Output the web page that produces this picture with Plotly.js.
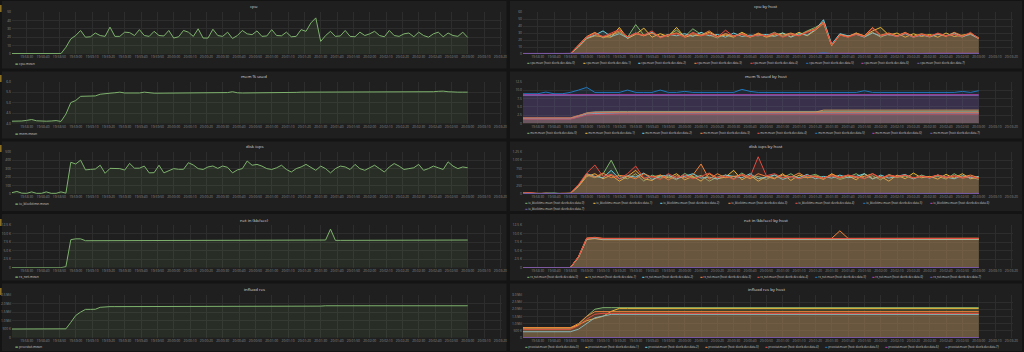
<!DOCTYPE html>
<html>
<head>
<meta charset="utf-8">
<script src="https://cdn.plot.ly/plotly-3.0.1.min.js"></script>
<style>
html,body{margin:0;padding:0;background:#141414;overflow:hidden;}
#chart{width:1024px;height:352px;}
</style>
</head>
<body>
<div id="chart"></div>
<script>
// ---------------- time grids ----------------
const DAY = '2017-06-01';
const leftStart = '19:58:21', leftStepSec = 3, leftCount = 94;
const rightStart = '19:58:20', rightStepSec = 5, rightCount = 57;
const axisRange = ['2017-06-01 19:58:21', '2017-06-01 20:03:21'];

// ---------------- tick labels ----------------
const cpuTicks = [0,10,20,30,40,50];
const cpuTickText = ['0','10','20','30','40','50'];
const cpuHostTicks = [0,10,20,30,40,50,60];
const cpuHostTickText = ['0','10','20','30','40','50','60'];
const memTicks = [4,4.5,5,5.5,6];
const memTickText = ['4.0','4.5','5.0','5.5','6.0'];
const memHostTicks = [0,2.5,5,7.5,10,12.5];
const memHostTickText = ['0','2.5','5.0','7.5','10.0','12.5'];
const diskTicks = [0,100,200,300,400,500];
const diskTickText = ['0','100','200','300','400','500'];
const diskHostTicks = [0,250,500,750,1000,1250];
const diskHostTickText = ['0','250','500','750','1.00 K','1.25 K'];
const netTicks = [0,2500,5000,7500,10000,12500];
const netTickText = ['0','2.5 K','5.0 K','7.5 K','10.0 K','12.5 K'];
const netHostTicks = [0,2500,5000,7500,10000,12500];
const netHostTickText = ['0','2.5 K','5.0 K','7.5 K','10.0 K','12.5 K'];
const resTicks = [0,500000,1000000,1500000,2000000,2500000];
const resTickText = ['0','500 K','1.0 Mil','1.5 Mil','2.0 Mil','2.5 Mil'];
const resHostTicks = [0,500000,1000000,1500000,2000000,2500000,3000000];
const resHostTickText = ['0','500 K','1.0 Mil','1.5 Mil','2.0 Mil','2.5 Mil','3.0 Mil'];

// ---------------- names ----------------
const hosts = ['devrb-dev-data-0','devrb-dev-data-1','devrb-dev-data-2','devrb-dev-data-3',
               'devrb-dev-data-4','devrb-dev-data-5','devrb-dev-data-6','devrb-dev-data-7'];
const palette = ['#7EB26D','#EAB839','#6ED0E0','#EF843C','#E24D42','#1F78C1','#BA43A9','#705DA0'];

// ---------------- left column series (3 s grid) ----------------
const cpuMean = [
0.5,0.5,0.5,0.5,0.5,0.5,0.5,0.5,0.5,0.5,
0.5,8,18,22,28,20,20.5,25,22,21,
32,21,21,26,25.5,22,29,22,21,27,
22,21.5,28,19,20.5,28,26,21,30,19,
19,29.5,22,21,26,18.5,22,28,24,23,
27.5,21,21.5,29,22,21.7,26,20.5,21,29,
27,37,43,15,22,27,21,21.5,28,21,
20.5,26,22,24,27,22,20.5,28,22,21,
24,25,20.5,26,22,20,24,26,20.5,25,
22,21,26,19.7];
const memMean = [
4.11,4.11,4.12,4.15,4.19,4.13,4.11,4.11,4.12,4.14,
4.10,4.45,5.00,5.10,5.30,5.31,5.31,5.32,5.40,5.44,
5.45,5.47,5.50,5.46,5.45,5.45,5.46,5.50,5.46,5.45,
5.45,5.45,5.46,5.47,5.45,5.45,5.45,5.47,5.45,5.45,
5.45,5.45,5.45,5.46,5.48,5.52,5.47,5.46,5.46,5.46,
5.46,5.46,5.46,5.47,5.47,5.47,5.48,5.48,5.49,5.50,
5.50,5.50,5.51,5.50,5.50,5.50,5.50,5.50,5.50,5.50,
5.50,5.50,5.50,5.50,5.50,5.50,5.51,5.50,5.50,5.50,
5.50,5.50,5.50,5.50,5.50,5.50,5.52,5.54,5.55,5.52,
5.50,5.50,5.50,5.50];
const diskMean = [
16,30,10,8,25,8,8,25,8,8,
25,10,375,355,400,285,291,295,340,245,
303,303,300,283,362,305,305,330,250,252,
340,250,276,300,292,292,370,343,300,290,
320,331,303,331,315,250,285,300,390,340,
350,330,300,290,310,340,290,260,300,320,
350,310,280,330,300,250,300,330,320,290,
350,300,280,310,340,300,260,320,360,330,
290,300,310,350,280,300,330,310,290,380,
330,300,320,310];
const netMean = [
20,20,20,20,20,20,20,20,20,20,
20,300,8200,8450,8450,7900,7900,7900,7920,7920,
7920,7920,7930,7930,7930,7930,7940,7940,7940,7940,
7950,7950,7950,7950,7950,7950,7950,7960,7960,7960,
7960,7960,7960,7970,7970,7970,7970,7970,7970,7980,
7980,7980,7980,7980,7990,7990,7990,7990,8000,8000,
8000,8000,8000,8000,8100,11300,8000,8000,8000,8010,
8010,8010,8010,8020,8020,8020,8020,8030,8030,8030,
8030,8040,8040,8040,8050,8060,8080,8100,8100,8100,
8100,8100,8100,8100];
const resMean = [
510000,510000,510000,510000,510000,510000,510000,510000,510000,510000,
510000,520000,900000,1300000,1500000,1660000,1660000,1665000,1780000,1820000,
1820000,1820000,1820000,1820000,1820000,1820000,1820000,1820000,1820000,1820000,
1820000,1820000,1820000,1820000,1820000,1820000,1820000,1830000,1820000,1820000,
1820000,1820000,1820000,1820000,1820000,1820000,1820000,1820000,1820000,1820000,
1820000,1820000,1820000,1820000,1820000,1820000,1820000,1820000,1820000,1820000,
1820000,1820000,1820000,1850000,1870000,1870000,1870000,1870000,1870000,1870000,
1870000,1870000,1870000,1870000,1870000,1870000,1870000,1870000,1870000,1870000,
1870000,1870000,1870000,1870000,1870000,1870000,1870000,1870000,1870000,1870000,
1870000,1870000,1870000,1870000];

// ---------------- right column series (5 s grid) ----------------
const cpuHost0 = [0.5,0.4,0.6,0.5,0.4,0.5,0.6,12,24,30, 23,27,31,24,42,27,30,24,27,34, 25,36,28,27,23,29,25,30,24,28, 26,31,25,29,27,33,38,45,13,28, 24,30,25,31,24,29,26,30,25,28, 24,29,26,28,24,30,22];
const cpuHost1 = [0.6,0.5,0.5,0.7,0.5,0.4,0.5,10,22,26, 25,24,38,22,28,37,24,29,25,38, 24,27,26,31,25,27,24,31,25,29, 24,27,30,25,31,26,34,44,12,27, 25,29,26,33,38,27,30,24,29,25, 28,24,30,25,27,29,23];
const cpuHost2 = [0.4,0.5,0.6,0.5,0.5,0.6,0.5,11,23,27, 33,25,29,23,30,26,31,24,28,26, 29,25,31,26,28,24,30,25,27,26, 28,25,30,24,29,27,35,49,14,29, 26,28,24,30,26,28,25,29,24,27, 25,28,26,30,25,28,22];
const cpuHost3 = [0.5,0.5,0.4,0.5,0.6,0.5,0.5,13,25,31, 24,28,33,25,29,26,30,25,28,30, 26,29,27,33,25,29,26,28,24,30, 25,29,27,30,26,32,36,46,12,28, 25,30,26,38,27,30,26,31,25,29, 26,29,25,31,26,29,23];
const cpuHost4 = [0.5,0.6,0.5,0.5,0.5,0.4,0.6,12,24,29, 25,30,35,24,30,27,33,23,27,29, 24,31,26,29,24,34,25,29,25,27, 26,30,24,28,26,31,35,45,13,27, 24,28,25,37,26,29,25,30,24,28, 25,30,26,28,25,31,22];
const cpuHost5 = [0.3,0.4,0.3,0.5,0.3,0.4,0.3,0.6,0.5,0.4, 0.5,0.4,0.6,0.4,0.5,0.4,0.6,0.4,0.5,0.4, 0.5,0.4,0.5,0.6,0.4,0.5,0.4,0.5,0.4,0.6, 0.4,0.5,0.4,0.5,0.4,0.6,0.5,1.8,0.4,0.5, 0.4,0.5,0.6,0.4,0.5,0.4,0.5,0.4,0.6,0.4, 0.5,0.4,0.5,0.4,0.6,0.4,0.5];
const cpuHost6 = [0.8,1.0,0.7,0.9,1.1,0.8,0.9,1.2,1.0,0.8, 1.1,0.9,1.0,0.8,1.2,0.9,1.0,0.8,1.1,0.9, 1.0,0.9,0.8,1.1,1.0,0.9,1.2,0.8,1.0,0.9, 1.1,0.8,1.0,0.9,1.1,1.0,0.8,1.3,0.9,1.0, 0.8,1.1,0.9,1.0,0.8,1.2,0.9,1.0,1.1,0.8, 1.0,0.9,1.1,0.8,1.0,0.9,1.0];
const cpuHost7 = [0.5,0.6,0.4,0.5,0.7,0.5,0.6,0.8,0.6,0.5, 0.7,0.6,0.5,0.6,0.8,0.5,0.6,0.7,0.5,0.6, 0.6,0.5,0.7,0.6,0.5,0.6,0.7,0.5,0.6,0.5, 0.7,0.6,0.5,0.6,0.7,0.5,0.6,0.9,0.5,0.6, 0.5,0.7,0.6,0.5,0.6,0.7,0.5,0.6,0.6,0.5, 0.7,0.6,0.5,0.6,0.7,0.5,0.6];

const memHost0 = [1.5,1.5,1.5,1.5,1.5,1.5,1.5,2.2,3.2,3.5, 3.6,3.6,3.6,3.6,3.6,3.6,3.6,3.6,3.6,3.6, 3.6,3.6,3.6,3.6,3.6,3.6,3.6,3.6,3.6,3.6, 3.6,3.6,3.6,3.6,3.6,3.6,3.6,3.6,3.6,3.6, 3.6,3.6,3.6,3.6,3.6,3.6,3.6,3.6,3.6,3.6, 3.6,3.6,3.6,3.6,3.6,3.6,3.6];
const memHost1 = [1.6,1.6,1.6,1.6,1.6,1.6,1.6,2.3,3.0,3.3, 3.4,3.4,3.4,3.4,3.4,3.4,3.4,3.4,3.4,3.4, 3.4,3.4,3.4,3.4,3.4,3.4,3.4,3.4,3.4,3.4, 3.4,3.4,3.4,3.4,3.4,3.4,3.4,4.0,4.0,4.0, 4.0,4.0,4.0,4.0,4.0,4.0,4.0,4.0,4.0,4.0, 4.0,4.0,4.0,4.0,4.0,4.0,4.0];
const memHost2 = [1.4,1.4,1.4,1.4,1.4,1.4,1.4,2.0,2.8,3.0, 3.1,3.1,3.1,3.1,3.1,3.1,3.1,3.1,3.1,3.1, 3.1,3.1,3.1,3.1,3.1,3.1,3.1,3.1,3.1,3.1, 3.1,3.1,3.1,3.1,3.1,3.1,3.1,3.1,3.1,3.1, 3.1,3.1,3.1,3.1,3.1,3.1,3.1,3.1,3.1,3.1, 3.1,3.1,3.1,3.1,3.1,3.1,3.1];
const memHost3 = [1.7,1.7,1.7,1.7,1.7,1.7,1.7,2.4,3.1,3.3, 3.3,3.3,3.3,3.3,3.3,3.3,3.3,3.3,3.3,3.3, 3.3,3.3,3.3,3.3,3.3,3.3,3.3,3.3,3.3,3.3, 3.3,3.3,3.3,3.3,3.3,3.3,3.3,3.3,3.3,3.3, 3.3,3.3,3.3,3.3,3.3,3.3,3.3,3.3,3.3,3.3, 3.3,3.3,3.3,3.3,3.3,3.3,3.3];
const memHost4 = [1.3,1.3,1.3,1.3,1.3,1.3,1.3,1.9,2.5,2.7, 2.8,2.8,2.8,2.8,2.8,2.8,2.8,2.8,2.8,2.8, 2.8,2.8,2.8,2.8,2.8,2.8,2.8,2.8,2.8,2.8, 2.8,2.8,2.8,2.8,2.8,2.8,2.8,2.8,2.8,2.8, 2.8,2.8,2.8,2.8,2.8,2.8,2.8,2.8,2.8,2.8, 2.8,2.8,2.8,2.8,2.8,2.8,2.8];
const memHost5 = [8.9,8.9,8.9,9.4,8.9,8.9,9.3,10.0,10.8,9.3, 9.3,9.3,9.3,10.0,9.3,9.3,9.3,10.0,9.3,9.3, 9.6,9.3,9.3,9.3,9.3,9.3,9.3,10.2,9.6,9.3, 9.3,9.3,9.3,9.3,9.5,9.3,9.5,9.3,9.3,9.3, 9.3,9.3,9.8,9.3,9.3,9.3,9.3,9.3,9.3,9.3, 9.3,9.3,9.3,9.3,9.6,9.3,9.8];
const memHost6 = [8.6,8.6,8.6,8.6,8.6,8.6,8.6,8.6,8.6,8.6, 8.6,8.6,8.6,8.6,8.6,8.6,8.6,8.6,8.6,8.6, 8.6,8.6,8.6,8.6,8.6,8.6,8.6,8.6,8.6,8.6, 8.6,8.6,8.6,8.6,8.6,8.6,8.6,8.6,8.6,8.6, 8.6,8.6,8.6,8.6,8.6,8.6,8.6,8.6,8.6,8.6, 8.6,8.6,8.6,8.6,8.6,8.6,8.6];
const memHost7 = [8.37,8.37,8.37,8.37,8.37,8.37,8.37,8.37,8.37,8.37, 8.37,8.37,8.37,8.37,8.37,8.37,8.37,8.37,8.37,8.37, 8.37,8.37,8.37,8.37,8.37,8.37,8.37,8.37,8.37,8.37, 8.37,8.37,8.37,8.37,8.37,8.37,8.37,8.37,8.37,8.37, 8.37,8.37,8.37,8.37,8.37,8.37,8.37,8.37,8.37,8.37, 8.37,8.37,8.37,8.37,8.37,8.37,8.37];

const diskHost0 = [20,35,10,15,30,10,25,250,560,480, 590,1000,520,450,600,380,560,470,520,420, 610,480,550,380,500,560,450,620,470,520, 430,560,480,600,450,520,580,470,540,430, 500,600,460,540,420,580,490,530,450,560, 480,520,440,600,470,510,430];
const diskHost1 = [15,25,20,10,20,15,20,220,520,600, 450,560,380,520,700,450,400,560,480,600, 420,520,380,600,450,500,700,420,560,380, 520,450,600,400,560,480,520,430,600,470, 540,420,600,460,520,380,560,450,620,480, 520,440,580,470,600,450,500];
const diskHost2 = [25,15,10,20,15,25,10,240,600,520, 480,700,450,540,500,620,430,520,560,450, 520,600,470,500,440,560,520,480,600,450, 500,560,430,520,480,580,450,520,470,560, 480,520,600,440,560,470,520,580,450,530, 470,560,500,450,540,480,520];
const diskHost3 = [30,20,15,25,10,20,15,260,580,500, 620,480,550,520,450,600,500,560,420,540, 480,560,886,440,600,480,520,560,450,600, 520,470,560,500,620,480,540,460,580,500, 560,480,520,600,470,540,500,560,480,520, 500,560,470,540,500,560,480];
const diskHost4 = [20,40,15,10,25,15,20,280,620,856, 520,580,450,600,826,470,520,430,600,480, 560,450,520,620,480,540,430,580,500,1100, 540,600,480,520,450,560,500,470,540,480, 560,520,450,600,480,560,520,560,470,530, 480,560,500,540,470,520,460];
const diskHost5 = [6,9,5,8,7,6,9,11,8,7, 10,8,9,7,11,8,9,7,10,8, 8,10,7,9,8,7,11,8,9,7, 9,10,7,9,8,9,10,8,9,7, 9,10,8,9,7,9,11,8,9,7, 9,10,8,9,8,7,10];
const diskHost6 = [8,12,6,10,9,7,11,14,10,8, 12,9,10,8,13,9,11,8,12,10, 9,11,8,12,10,9,13,8,11,9, 10,12,8,11,9,10,12,9,11,8, 10,12,9,11,8,10,13,9,11,8, 10,12,9,11,10,8,12];
const diskHost7 = [15,20,12,18,16,14,19,22,18,15, 20,17,18,15,21,16,19,15,20,17, 16,19,15,20,18,16,21,15,19,17, 18,20,15,19,16,18,20,16,19,15, 18,20,16,19,15,18,21,16,19,15, 18,20,16,19,17,15,20];

const netHost0 = [20,20,20,20,20,20,20,3200,8500,8700, 8400,8400,8400,8400,8400,8400,8400,8400,8400,8400, 8400,8400,8400,8400,8400,8400,8400,8400,8400,8400, 8400,8400,8400,8400,8400,8400,8400,8400,8400,8450, 8400,8400,8400,8400,8400,8400,8400,8400,8400,8400, 8400,8400,8450,8450,8450,8450,8450];
const netHost1 = [20,20,20,20,20,20,20,3000,8300,8500, 8200,8200,8200,8200,8200,8200,8200,8200,8200,8200, 8200,8200,8200,8200,8200,8200,8200,8200,8200,8200, 8200,8200,8200,8200,8200,8200,8200,8200,8200,8250, 8200,8200,8200,8200,8200,8200,8200,8200,8200,8200, 8200,8200,8250,8250,8250,8250,8250];
const netHost2 = [20,20,20,20,20,20,20,3100,8400,8600, 8300,8300,8300,8300,8300,8300,8300,8300,8300,8300, 8300,8300,8300,8300,8300,8300,8300,8300,8300,8300, 8300,8300,8300,8300,8300,8300,8300,8300,8300,8350, 8300,8300,8300,8300,8300,8300,8300,8300,8300,8300, 8300,8300,8350,8350,8350,8350,8350];
const netHost3 = [20,20,20,20,20,20,20,3300,8700,8900, 8600,8600,8600,8600,8600,8600,8600,8600,8600,8600, 8600,8600,8600,8600,8600,8600,8600,8600,8600,8600, 8600,8600,8600,8600,8600,8600,8600,8600,8600,10800, 8600,8600,8600,8600,8600,8600,8600,8600,8600,8600, 8600,8600,8650,8650,8650,8650,8650];
const netHost4 = [20,20,20,20,20,20,20,3200,8600,8800, 8500,8500,8500,8500,8500,8500,8500,8500,8500,8500, 8500,8500,8500,8500,8500,8500,8500,8500,8500,8500, 8500,8500,8500,8500,8500,8500,8500,8500,8500,8550, 8500,8500,8500,8500,8500,8500,8500,8500,8500,8500, 8500,8500,8550,8550,8550,8550,8550];
const netHost5 = [40,40,40,40,40,40,40,40,40,40, 40,40,40,40,40,40,40,40,40,40, 40,40,40,40,40,40,40,40,40,40, 40,40,40,40,40,40,40,40,40,40, 40,40,40,40,40,40,40,40,40,40, 40,40,40,40,40,40,40];
const netHost6 = [20,20,20,20,20,20,20,20,20,20, 20,20,20,20,20,20,20,20,20,20, 20,20,20,20,20,20,20,20,20,20, 20,20,20,20,20,20,20,20,20,20, 20,20,20,20,20,20,20,20,20,20, 20,20,20,20,20,20,20];
const netHost7 = [30,30,30,30,30,30,30,30,30,30, 30,30,30,30,30,30,30,30,30,30, 30,30,30,30,30,30,30,30,30,30, 30,30,30,30,30,30,30,30,30,30, 30,30,30,30,30,30,30,30,30,30, 30,30,30,30,30,30,30];

const resHost0 = [620000,620000,620000,620000,620000,620000,620000,900000,1500000,2000000, 2110000,2110000,2110000,2110000,2110000,2110000,2110000,2110000,2110000,2110000, 2110000,2110000,2150000,2120000,2110000,2110000,2110000,2110000,2110000,2110000, 2110000,2110000,2110000,2110000,2110000,2110000,2110000,2110000,2110000,2110000, 2110000,2110000,2110000,2110000,2110000,2110000,2110000,2110000,2110000,2110000, 2110000,2110000,2110000,2110000,2110000,2110000,2110000];
const resHost1 = [700000,700000,700000,700000,700000,700000,700000,900000,1200000,1350000, 1500000,1850000,2060000,2060000,2060000,2060000,2060000,2060000,2060000,2060000, 2060000,2060000,2060000,2060000,2060000,2060000,2060000,2060000,2060000,2060000, 2060000,2060000,2060000,2060000,2060000,2060000,2060000,2060000,2060000,2060000, 2060000,2060000,2060000,2060000,2060000,2060000,2060000,2060000,2060000,2060000, 2060000,2060000,2060000,2060000,2060000,2060000,2060000];
const resHost2 = [420000,420000,420000,420000,420000,420000,420000,600000,1000000,1400000, 1520000,1640000,1640000,1640000,1640000,1640000,1640000,1640000,1640000,1640000, 1640000,1640000,1640000,1640000,1640000,1640000,1640000,1640000,1640000,1640000, 1640000,1640000,1640000,1640000,1640000,1640000,1640000,1640000,1640000,1640000, 1640000,1640000,1640000,1640000,1640000,1640000,1640000,1640000,1640000,1640000, 1640000,1640000,1640000,1640000,1640000,1640000,1640000];
const resHost3 = [700000,700000,700000,700000,700000,700000,700000,1000000,1500000,1830000, 1830000,1830000,1830000,1830000,1830000,1830000,1830000,1830000,1830000,1830000, 1830000,1830000,1830000,1830000,1830000,1830000,1830000,1830000,1830000,1830000, 1830000,1830000,1830000,1830000,1830000,1830000,1830000,1830000,1830000,1830000, 1830000,1830000,1830000,1830000,1830000,1830000,1830000,1830000,1830000,1830000, 1830000,1830000,1830000,1830000,1830000,1830000,1830000];
const resHost4 = [590000,590000,590000,590000,590000,590000,590000,850000,1300000,1650000, 1710000,1710000,1710000,1710000,1710000,1710000,1710000,1710000,1710000,1710000, 1710000,1710000,1710000,1710000,1710000,1710000,1710000,1710000,1710000,1710000, 1710000,1710000,1710000,1710000,1710000,1710000,1710000,1710000,1710000,1710000, 1710000,1710000,1710000,1710000,1710000,1710000,1710000,1710000,1710000,1710000, 1710000,1710000,1710000,1710000,1710000,1710000,1710000];
const resHost5 = [10000,10000,10000,10000,10000,10000,10000,10000,10000,10000, 10000,10000,10000,10000,10000,10000,10000,10000,10000,10000, 10000,10000,10000,10000,10000,10000,10000,10000,10000,10000, 10000,10000,10000,10000,10000,10000,10000,10000,10000,10000, 10000,10000,10000,10000,10000,10000,10000,10000,10000,10000, 10000,10000,10000,10000,10000,10000,10000];
const resHost6 = [8000,8000,8000,8000,8000,8000,8000,8000,8000,8000, 8000,8000,8000,8000,8000,8000,8000,8000,8000,8000, 8000,8000,8000,8000,8000,8000,8000,8000,8000,8000, 8000,8000,8000,8000,8000,8000,8000,8000,8000,8000, 8000,8000,8000,8000,8000,8000,8000,8000,8000,8000, 8000,8000,8000,8000,8000,8000,8000];
const resHost7 = [6000,6000,6000,6000,6000,6000,6000,6000,6000,6000, 6000,6000,6000,6000,6000,6000,6000,6000,6000,6000, 6000,6000,6000,6000,6000,6000,6000,6000,6000,6000, 6000,6000,6000,6000,6000,6000,6000,6000,6000,6000, 6000,6000,6000,6000,6000,6000,6000,6000,6000,6000, 6000,6000,6000,6000,6000,6000,6000];

// ---------------- helpers ----------------
function hmsToSec(s){const p=s.split(':').map(Number);return p[0]*3600+p[1]*60+p[2];}
function pad(n){return (n<10?'0':'')+n;}
function secToStamp(sec){const h=Math.floor(sec/3600),m=Math.floor((sec%3600)/60),s=sec%60;return DAY+' '+pad(h)+':'+pad(m)+':'+pad(s);}
function timeGrid(start,step,n){const s0=hmsToSec(start);const out=[];for(let i=0;i<n;i++)out.push(secToStamp(s0+i*step));return out;}
function rgba(hex,a){const v=parseInt(hex.slice(1),16);return 'rgba('+((v>>16)&255)+','+((v>>8)&255)+','+(v&255)+','+a+')';}

const tLeft = timeGrid(leftStart,leftStepSec,leftCount);
const tRight = timeGrid(rightStart,rightStepSec,rightCount);

// ---------------- geometry (px) ----------------
const W=1024,H=352;
const colX = [[12,502],[523,1013]];
const panelX = [[2,506.5],[510,1022]];
const rows = [
  {plot:[12,54],   panel:[1,68.5],   title:6,   legend:[63.3]},
  {plot:[81.7,123.5],panel:[71.5,138.5],title:76, legend:[133.3]},
  {plot:[151.7,194],panel:[141.5,211], title:146, legend:[203.3,208.6]},
  {plot:[225,267.7],panel:[214,280.5], title:220, legend:[276.7]},
  {plot:[295,337.7],panel:[283.5,351], title:289, legend:[346.7]}
];
const GRID='#2d2d2d', TICK='#8c8c8c', TITLE='#d8d9da', LEG='#c8c8c8';
const FONT='"Open Sans", "DejaVu Sans", sans-serif';

const panels = [
 {col:0,row:0,title:'cpu',yr:[0,50],tv:cpuTicks,tt:cpuTickText,series:[['cpu.mean',cpuMean]]},
 {col:0,row:1,title:'mem % used',yr:[4,6],tv:memTicks,tt:memTickText,series:[['mem.mean',memMean]]},
 {col:0,row:2,title:'disk iops',yr:[0,500],tv:diskTicks,tt:diskTickText,series:[['io_blocktime.mean',diskMean]]},
 {col:0,row:3,title:'net in (kb/sec)',yr:[0,12500],tv:netTicks,tt:netTickText,series:[['rx_net.mean',netMean]]},
 {col:0,row:4,title:'influxd res',yr:[0,2500000],tv:resTicks,tt:resTickText,series:[['procstat.mean',resMean]]},
 {col:1,row:0,title:'cpu by host',yr:[0,60],tv:cpuHostTicks,tt:cpuHostTickText,prefix:'cpu.mean',
   series:[cpuHost0,cpuHost1,cpuHost2,cpuHost3,cpuHost4,cpuHost5,cpuHost6,cpuHost7],legX:[525,580.7,636.4,692,747.8,803.5,859,915]},
 {col:1,row:1,title:'mem % used by host',yr:[0,12.5],tv:memHostTicks,tt:memHostTickText,prefix:'mem.mean',
   series:[memHost0,memHost1,memHost2,memHost3,memHost4,memHost5,memHost6,memHost7],legX:[525,582.5,640,697.5,755,812.5,870,927.5]},
 {col:1,row:2,title:'disk iops by host',yr:[0,1250],tv:diskHostTicks,tt:diskHostTickText,prefix:'io_blocktime.mean',
   series:[diskHost0,diskHost1,diskHost2,diskHost3,diskHost4,diskHost5,diskHost6,diskHost7],legX:[523,590.5,658,725.5,793,860.5,928,523],legRow:[0,0,0,0,0,0,0,1]},
 {col:1,row:3,title:'net in (kb/sec) by host',yr:[0,12500],tv:netHostTicks,tt:netHostTickText,prefix:'rx_net.mean',
   series:[netHost0,netHost1,netHost2,netHost3,netHost4,netHost5,netHost6,netHost7],legX:[525,582.5,640,697.5,755,812.5,870,927.5]},
 {col:1,row:4,title:'influxd res by host',yr:[0,3000000],tv:resHostTicks,tt:resHostTickText,prefix:'procstat.mean',
   series:[resHost0,resHost1,resHost2,resHost3,resHost4,resHost5,resHost6,resHost7],legX:[523,583,643,703,763,823,883,943]}
];

const traces=[], shapes=[], annotations=[];
const layout = {
  width:W,height:H,margin:{l:0,r:0,t:0,b:0},
  paper_bgcolor:'#141414',plot_bgcolor:'rgba(0,0,0,0)',
  showlegend:false,font:{family:FONT,color:TICK,size:3.4},
  hovermode:false
};

// row handles on far left
rows.forEach(r=>{
  shapes.push({type:'rect',xref:'paper',yref:'paper',layer:'below',x0:0,x1:1.6/W,
    y0:1-(r.title+6)/H,y1:1-(r.title-1)/H,fillcolor:'#8a6f25',line:{width:0}});
});

panels.forEach((p,k)=>{
  const sfx = k===0?'':String(k+1);
  const r = rows[p.row];
  const cx = colX[p.col], px = panelX[p.col];
  shapes.push({type:'rect',xref:'paper',yref:'paper',layer:'below',
    x0:px[0]/W,x1:px[1]/W,y0:1-r.panel[1]/H,y1:1-r.panel[0]/H,fillcolor:'#1f1f1f',line:{width:0}});
  layout['xaxis'+sfx] = {domain:[cx[0]/W,cx[1]/W],anchor:'y'+sfx,type:'date',range:axisRange,
    dtick:10000,tick0:'2017-06-01 19:58:30',tickformat:'%H:%M:%S',showgrid:true,gridcolor:GRID,gridwidth:1,
    zeroline:false,showline:false,ticks:'',tickfont:{family:FONT,size:3.3,color:TICK},fixedrange:true,automargin:false};
  layout['yaxis'+sfx] = {domain:[1-r.plot[1]/H,1-r.plot[0]/H],anchor:'x'+sfx,range:p.yr,
    tickmode:'array',tickvals:p.tv,ticktext:p.tt,showgrid:true,gridcolor:GRID,gridwidth:1,
    zeroline:false,showline:false,ticks:'',tickfont:{family:FONT,size:3.3,color:TICK},fixedrange:true,automargin:false};
  annotations.push({xref:'paper',yref:'paper',x:((px[0]+px[1])/2)/W,y:1-r.title/H,text:p.title,
    showarrow:false,xanchor:'center',yanchor:'middle',font:{family:FONT,size:4.3,color:TITLE}});
  if(p.col===0){
    const [name,vals] = p.series[0];
    traces.push({x:tLeft,y:vals,xaxis:'x'+sfx,yaxis:'y'+sfx,mode:'lines',
      line:{color:palette[0],width:1},fill:'tozeroy',fillcolor:rgba(palette[0],0.1),hoverinfo:'skip'});
    annotations.push({xref:'paper',yref:'paper',x:12.5/W,y:1-r.legend[0]/H,
      text:'<span style="color:'+palette[0]+'">▬</span> '+name,showarrow:false,xanchor:'left',yanchor:'middle',
      font:{family:FONT,size:3.4,color:LEG}});
  } else {
    p.series.forEach((vals,i)=>{
      traces.push({x:tRight,y:vals,xaxis:'x'+sfx,yaxis:'y'+sfx,mode:'lines',
        line:{color:palette[i],width:1},fill:'tozeroy',fillcolor:rgba(palette[i],0.12),hoverinfo:'skip'});
      const lr = p.legRow?p.legRow[i]:0;
      annotations.push({xref:'paper',yref:'paper',x:p.legX[i]/W,y:1-r.legend[lr]/H,
        text:'<span style="color:'+palette[i]+'">▬</span> '+p.prefix+' {host: '+hosts[i]+'}',
        showarrow:false,xanchor:'left',yanchor:'middle',font:{family:FONT,size:2.75,color:LEG}});
    });
  }
});

layout.shapes = shapes;
layout.annotations = annotations;
Plotly.newPlot('chart',traces,layout,{displayModeBar:false,staticPlot:true});
</script>
</body>
</html>
